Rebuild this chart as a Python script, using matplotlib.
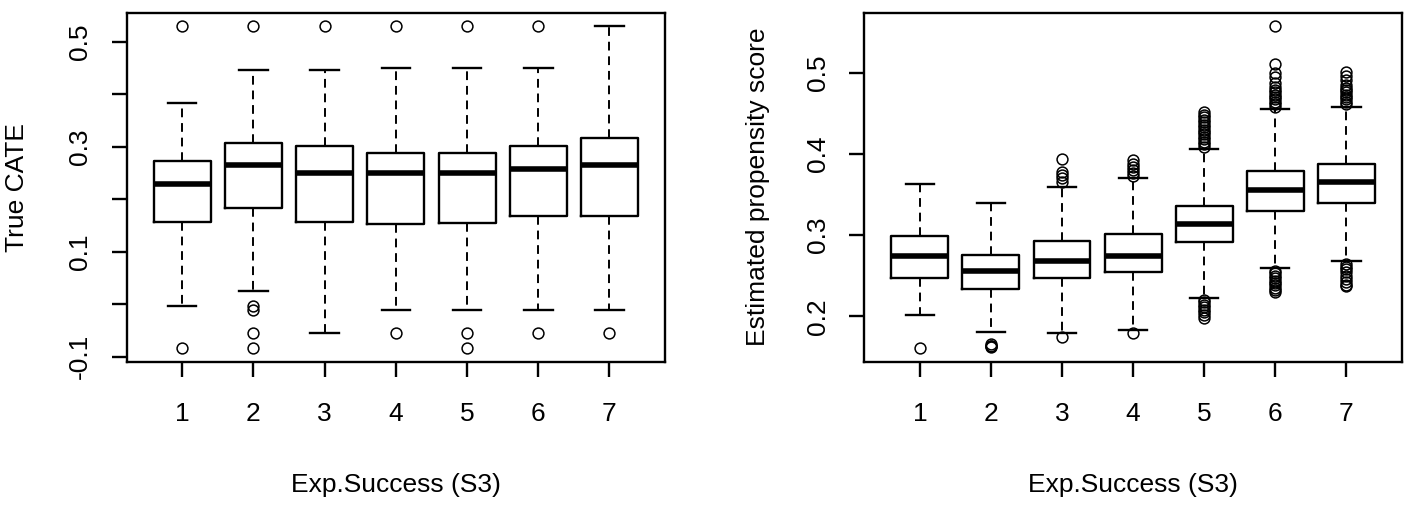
import matplotlib
matplotlib.use("Agg")
import matplotlib.pyplot as plt

plt.rcParams['font.family'] = ['Liberation Sans', 'DejaVu Sans']

categories = ["1", "2", "3", "4", "5", "6", "7"]

# Left panel: True CATE
cate_whislo = [-0.003, 0.025, -0.055, -0.011, -0.011, -0.011, -0.011]
cate_q1 = [0.156, 0.184, 0.156, 0.152, 0.155, 0.168, 0.168]
cate_med = [0.229, 0.265, 0.249, 0.249, 0.249, 0.258, 0.265]
cate_q3 = [0.273, 0.306, 0.302, 0.287, 0.287, 0.302, 0.316]
cate_whishi = [0.383, 0.446, 0.446, 0.450, 0.449, 0.449, 0.530]
cate_fliers = [
    [0.530, -0.084],
    [0.530, -0.003, -0.011, -0.0555, -0.084],
    [0.530],
    [0.530, -0.0555],
    [0.530, -0.054, -0.084],
    [0.530, -0.054],
    [-0.054],
]

# Right panel: Estimated propensity score
ps_whislo = [0.202, 0.181, 0.179, 0.183, 0.223, 0.259, 0.268]
ps_q1 = [0.2475, 0.233, 0.2475, 0.254, 0.291, 0.330, 0.340]
ps_med = [0.274, 0.256, 0.268, 0.274, 0.314, 0.355, 0.365]
ps_q3 = [0.299, 0.276, 0.293, 0.301, 0.336, 0.379, 0.388]
ps_whishi = [0.363, 0.340, 0.359, 0.370, 0.406, 0.455, 0.458]
ps_fliers = [
    [0.1606],
    [0.166, 0.164, 0.163, 0.162],
    [0.365, 0.370, 0.374, 0.378, 0.394, 0.175],
    [0.373, 0.376, 0.380, 0.384, 0.388, 0.3925, 0.180],
    [0.409, 0.412, 0.415, 0.418, 0.421, 0.424, 0.427, 0.430, 0.433,
     0.436, 0.439, 0.442, 0.445, 0.448, 0.452,
     0.220, 0.217, 0.214, 0.211, 0.208, 0.205, 0.202, 0.1975],
    [0.458, 0.461, 0.464, 0.467, 0.470, 0.473, 0.476, 0.479, 0.482, 0.487,
     0.495, 0.500, 0.511, 0.5575,
     0.256, 0.253, 0.250, 0.247, 0.244, 0.241, 0.238, 0.235, 0.232, 0.230],
    [0.461, 0.464, 0.467, 0.470, 0.473, 0.476, 0.479, 0.481, 0.485,
     0.491, 0.496, 0.501,
     0.264, 0.261, 0.258, 0.255, 0.250, 0.246, 0.242, 0.239, 0.237],
]

x_label = "Exp.Success (S3)"
left_ylabel = "True CATE"
right_ylabel = "Estimated propensity score"
left_yticks = [-0.1, 0.0, 0.1, 0.2, 0.3, 0.4, 0.5]
left_yticklabels = ["-0.1", "", "0.1", "", "0.3", "", "0.5"]
right_yticks = [0.2, 0.3, 0.4, 0.5]
right_yticklabels = ["0.2", "0.3", "0.4", "0.5"]


def make_stats(lo, q1, med, q3, hi, fl):
    return [dict(whislo=a, q1=b, med=c, q3=d, whishi=e, fliers=f, label=lab)
            for a, b, c, d, e, f, lab in zip(lo, q1, med, q3, hi, fl, categories)]


fig = plt.figure(figsize=(14.08, 5.05), dpi=100)
ax1 = fig.add_axes([0.0900, 0.2838, 0.3823, 0.6911])
ax2 = fig.add_axes([0.6139, 0.2838, 0.3817, 0.6911])

style = dict(
    widths=0.8, capwidths=0.4, showfliers=True,
    boxprops=dict(color='black', linewidth=1.7),
    medianprops=dict(color='black', linewidth=4.0, solid_capstyle='butt'),
    whiskerprops=dict(color='black', linewidth=1.4, linestyle=(0, (4.5, 3))),
    capprops=dict(color='black', linewidth=1.7),
    flierprops=dict(marker='o', markersize=7.8, markerfacecolor='none',
                    markeredgecolor='black', markeredgewidth=1.1, linestyle='none'),
)

ax1.bxp(make_stats(cate_whislo, cate_q1, cate_med, cate_q3, cate_whishi, cate_fliers), **style)
ax2.bxp(make_stats(ps_whislo, ps_q1, ps_med, ps_q3, ps_whishi, ps_fliers), **style)

for ax in (ax1, ax2):
    ax.set_xlim(0.22, 7.78)
    ax.set_xticks(range(1, 8))
    ax.set_xticklabels(categories, fontsize=19)
    for s in ax.spines.values():
        s.set_linewidth(1.7)
    ax.tick_params(axis='both', direction='out', length=11, width=1.7, labelsize=19)
    ax.tick_params(axis='x', pad=18)
    ax.tick_params(axis='y', pad=14)
    ax.set_xlabel(x_label, fontsize=19, labelpad=34)

ax1.set_ylim(-0.1095, 0.555)
ax1.set_yticks(left_yticks)
ax1.set_yticklabels(left_yticklabels, rotation=90, va='center')
ax1.set_ylabel(left_ylabel, fontsize=19, labelpad=28)

ax2.set_ylim(0.1441, 0.5739)
ax2.set_yticks(right_yticks)
ax2.set_yticklabels(right_yticklabels, rotation=90, va='center')
ax2.set_ylabel(right_ylabel, fontsize=19, labelpad=26)

fig.savefig("out.png", dpi=100, facecolor='white')
